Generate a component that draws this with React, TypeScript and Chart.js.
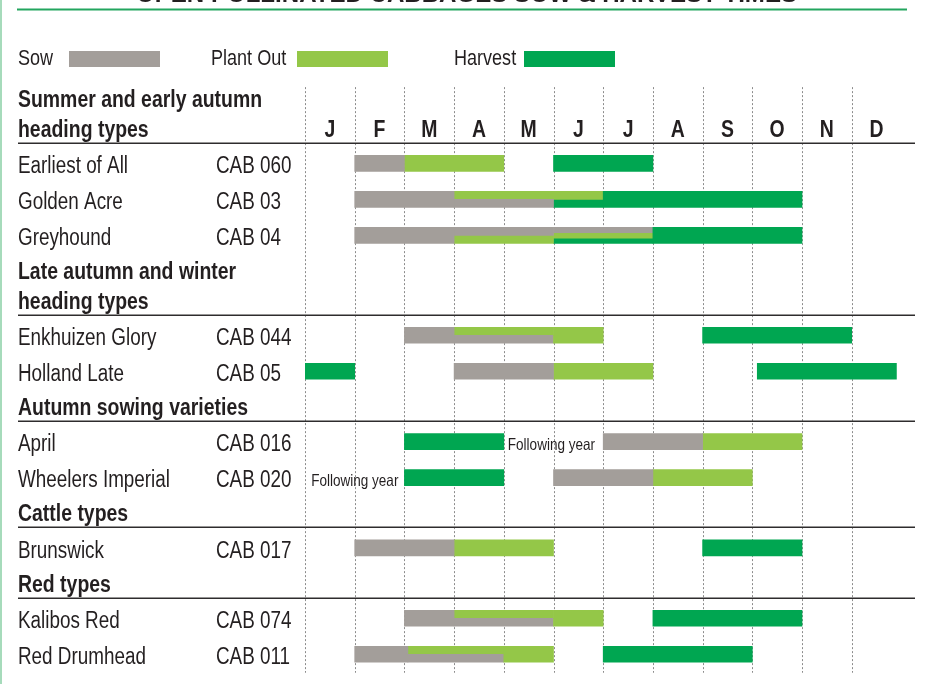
import React, { useEffect, useRef } from 'react';
import { Chart, registerables } from 'chart.js';

Chart.register(...registerables);

// ---------- data ----------
const titleText = 'OPEN POLLINATED CABBAGES SOW & HARVEST TIMES';
const monthLabels = ['J', 'F', 'M', 'A', 'M', 'J', 'J', 'A', 'S', 'O', 'N', 'D'];
const phaseNames = ['Sow', 'Plant Out', 'Harvest'];
const phaseColors = ['#a39e9a', '#94c748', '#00a651'];

const groupTitles: string[][] = [
  ['Summer and early autumn', 'heading types'],
  ['Late autumn and winter', 'heading types'],
  ['Autumn sowing varieties'],
  ['Cattle types'],
  ['Red types'],
];

const varietyNames = [
  'Earliest of All', 'Golden Acre', 'Greyhound', 'Enkhuizen Glory', 'Holland Late',
  'April', 'Wheelers Imperial', 'Brunswick', 'Kalibos Red', 'Red Drumhead',
];
const varietyCodes = [
  'CAB 060', 'CAB 03', 'CAB 04', 'CAB 044', 'CAB 05',
  'CAB 016', 'CAB 020', 'CAB 017', 'CAB 074', 'CAB 011',
];
const varietyGroup = [0, 0, 0, 1, 1, 2, 2, 3, 4, 4];

// periods in months from the start of January (0 = 1 Jan, 12 = 31 Dec)
const sowPeriods: number[][][] = [
  [[1, 2]], [[1, 5]], [[1, 7]], [[2, 5]], [[3, 5]],
  [[6, 8]], [[5, 7]], [[1, 3]], [[2, 5]], [[1, 4]],
];
const plantOutPeriods: number[][][] = [
  [[2, 4]], [[3, 6]], [[3, 7]], [[3, 6]], [[5, 7]],
  [[8, 10]], [[7, 9]], [[3, 5]], [[3, 6]], [[2.07, 5]],
];
const harvestPeriods: number[][][] = [
  [[5, 7]], [[5, 10]], [[5, 10]], [[8, 11]], [[0, 1], [9.1, 11.9]],
  [[2, 4]], [[2, 4]], [[8, 10]], [[7, 10]], [[6, 9]],
];
// top-to-bottom order of phases where periods overlap (0 sow, 1 plant out, 2 harvest)
const overlapOrder = [
  [1, 0, 2], [1, 0, 2], [0, 1, 2], [1, 0, 2], [1, 0, 2],
  [1, 0, 2], [1, 0, 2], [1, 0, 2], [1, 0, 2], [1, 0, 2],
];
// "Following year" notes attached to a harvest period
const followingYearVariety = [5, 6];
const followingYearSide = ['after', 'before'];
const followingYearText = 'Following year';

// ---------- layout (row units) ----------
const ROW = 1;
const HEAD_LINE = 0.82;
const TO_HEAD = 0.944;
const HEAD_TO_SEP = 0.4;
const SEP_TO_ROW = 0.61;
const Y_MIN = -2.75;
const Y_MAX = 16.25;
const W = 931;
const H = 684;
const BAR_PX = 16;
const BAR_SHIFT_PX = -1.5;
const TEXT_SHIFT_PX = 2;
const PX_PER_UNIT = H / (Y_MAX - Y_MIN);
const TEXT = '#231f20';
const FONT = '"Liberation Sans", Arial, sans-serif';

const headerLinePos: number[][] = [];
const sepPos: number[] = [];
const rowPos: number[] = [];
(() => {
  let pos = 0;
  let last = -1;
  varietyGroup.forEach((g, v) => {
    if (g !== last) {
      if (last !== -1) pos += TO_HEAD;
      const lines: number[] = [];
      groupTitles[g].forEach((_, i) => {
        if (i > 0) pos += HEAD_LINE;
        lines.push(pos);
      });
      headerLinePos.push(lines);
      pos += HEAD_TO_SEP;
      sepPos.push(pos);
      pos += SEP_TO_ROW;
      last = g;
    } else {
      pos += ROW;
    }
    rowPos[v] = pos;
  });
})();

// split periods into lanes where phases overlap
type Seg = { p: number; n: number; k: number; a: number; b: number; v: number };
const segments: Seg[] = [];
varietyNames.forEach((_, v) => {
  const per = [sowPeriods[v], plantOutPeriods[v], harvestPeriods[v]];
  const cuts = Array.from(new Set(per.flat().flat())).sort((x, y) => x - y);
  const lastByKey: Record<string, Seg> = {};
  for (let i = 0; i < cuts.length - 1; i++) {
    const a = cuts[i];
    const b = cuts[i + 1];
    const covering = overlapOrder[v].filter((p) => per[p].some(([s, e]) => s <= a && e >= b));
    const n = covering.length;
    covering.forEach((p, k) => {
      const key = `${p}-${n}-${k}`;
      const prev = lastByKey[key];
      if (prev && prev.b === a) {
        prev.b = b;
      } else {
        const s: Seg = { p, n, k, a, b, v };
        segments.push(s);
        lastByKey[key] = s;
      }
    });
  }
});

function buildDatasets() {
  const ds: any[] = [];
  for (let n = 1; n <= 3; n++) {
    for (let p = 0; p < 3; p++) {
      const pts = segments
        .filter((s) => s.n === n && s.p === p)
        .map((s) => {
          const offPx = BAR_SHIFT_PX - BAR_PX / 2 + ((s.k + 0.5) * BAR_PX) / n;
          return { x: [s.a, s.b], y: rowPos[s.v] + offPx / PX_PER_UNIT };
        });
      if (!pts.length) continue;
      ds.push({
        label: `${phaseNames[p]} ${n}`,
        data: pts,
        backgroundColor: phaseColors[p],
        borderWidth: 0,
        barThickness: BAR_PX / n,
        grouped: false,
      });
    }
  }
  return ds;
}

function drawText(
  ctx: CanvasRenderingContext2D, s: string, x: number, y: number,
  size: number, bold: boolean, align: CanvasTextAlign = 'left', sx = 0.82,
) {
  ctx.save();
  ctx.font = `${bold ? 'bold ' : ''}${size}px ${FONT}`;
  ctx.fillStyle = TEXT;
  ctx.textAlign = align;
  ctx.textBaseline = 'middle';
  ctx.translate(x, y + TEXT_SHIFT_PX);
  ctx.scale(sx, 1);
  ctx.fillText(s, 0, 0);
  ctx.restore();
}

const decorPlugin = {
  id: 'decor',
  beforeDatasetsDraw(chart: any) {
    const ctx: CanvasRenderingContext2D = chart.ctx;
    const xs = chart.scales.x;
    const ys = chart.scales.y;
    ctx.save();
    // left border
    ctx.fillStyle = '#a6dbbb';
    ctx.fillRect(0, 0, 2, H);
    // title (cut off at the top)
    ctx.font = `bold 24px ${FONT}`;
    const tw = ctx.measureText(titleText).width;
    ctx.save();
    ctx.fillStyle = TEXT;
    ctx.textBaseline = 'alphabetic';
    ctx.textAlign = 'left';
    ctx.translate(136, 2);
    ctx.scale(661 / tw, 1);
    ctx.fillText(titleText, 0, 0);
    ctx.restore();
    // green rule
    ctx.strokeStyle = '#23a55f';
    ctx.lineWidth = 2;
    ctx.beginPath();
    ctx.moveTo(17, 9.5);
    ctx.lineTo(907, 9.5);
    ctx.stroke();
    // legend
    const legendX = [18, 211, 454];
    const swatchX = [69, 297, 524];
    phaseNames.forEach((name, i) => {
      drawText(ctx, name, legendX[i], 57, 22, false);
      ctx.fillStyle = phaseColors[i];
      ctx.fillRect(swatchX[i], 51, 91, 16);
    });
    // month grid
    const gTop = ys.getPixelForValue(headerLinePos[0][0] - 0.33);
    const gBot = ys.getPixelForValue(rowPos[rowPos.length - 1] + 0.47);
    ctx.strokeStyle = '#8c8c8c';
    ctx.lineWidth = 1;
    ctx.setLineDash([2, 2]);
    for (let i = 0; i < 12; i++) {
      const x = Math.round(xs.getPixelForValue(i)) + 0.5;
      ctx.beginPath();
      ctx.moveTo(x, gTop);
      ctx.lineTo(x, gBot);
      ctx.stroke();
    }
    ctx.setLineDash([]);
    // separators
    ctx.strokeStyle = '#2e2c2d';
    ctx.lineWidth = 1.5;
    sepPos.forEach((sp) => {
      const y = Math.round(ys.getPixelForValue(sp)) + 0.25;
      ctx.beginPath();
      ctx.moveTo(18, y);
      ctx.lineTo(915, y);
      ctx.stroke();
    });
    ctx.restore();
  },
  afterDatasetsDraw(chart: any) {
    const ctx: CanvasRenderingContext2D = chart.ctx;
    const xs = chart.scales.x;
    const ys = chart.scales.y;
    // group headers
    groupTitles.forEach((lines, g) => {
      lines.forEach((line, i) => {
        drawText(ctx, line, 18, ys.getPixelForValue(headerLinePos[g][i]), 23, true, 'left', 0.845);
      });
    });
    // month letters
    const mY = ys.getPixelForValue(headerLinePos[0][headerLinePos[0].length - 1]);
    monthLabels.forEach((m, i) => {
      drawText(ctx, m, xs.getPixelForValue(i + 0.5), mY, 23, true, 'center', 0.845);
    });
    // varieties
    varietyNames.forEach((name, v) => {
      const y = ys.getPixelForValue(rowPos[v]);
      drawText(ctx, name, 18, y, 23, false);
      drawText(ctx, varietyCodes[v], 216, y, 23, false);
    });
    // following-year notes
    followingYearVariety.forEach((v, i) => {
      const y = ys.getPixelForValue(rowPos[v]);
      const [s, e] = harvestPeriods[v][0];
      if (followingYearSide[i] === 'after') {
        drawText(ctx, followingYearText, xs.getPixelForValue(e) + 4, y, 16.5, false, 'left');
      } else {
        drawText(ctx, followingYearText, xs.getPixelForValue(s) - 6, y, 16.5, false, 'right');
      }
    });
  },
};

export default function App() {
  const ref = useRef<HTMLCanvasElement>(null);
  useEffect(() => {
    document.body.style.margin = '0';
    const chart = new Chart(ref.current!, {
      type: 'bar',
      data: { datasets: buildDatasets() },
      options: {
        indexAxis: 'y',
        animation: false,
        responsive: false,
        devicePixelRatio: 1,
        layout: { padding: { left: 305, right: W - 305 - 12 * 49.7, top: 0, bottom: 0 } },
        scales: {
          x: { type: 'linear', min: 0, max: 12, display: false, offset: false, grid: { offset: false } },
          y: { type: 'linear', min: Y_MIN, max: Y_MAX, reverse: true, display: false, offset: false, grid: { offset: false } },
        },
        plugins: { legend: { display: false }, tooltip: { enabled: false } },
      } as any,
      plugins: [decorPlugin],
    });
    return () => chart.destroy();
  }, []);
  return (
    <div style={{ position: 'absolute', left: 0, top: 0, width: W, height: H, background: '#fff' }}>
      <canvas ref={ref} width={W} height={H} style={{ display: 'block', width: W, height: H }} />
    </div>
  );
}
